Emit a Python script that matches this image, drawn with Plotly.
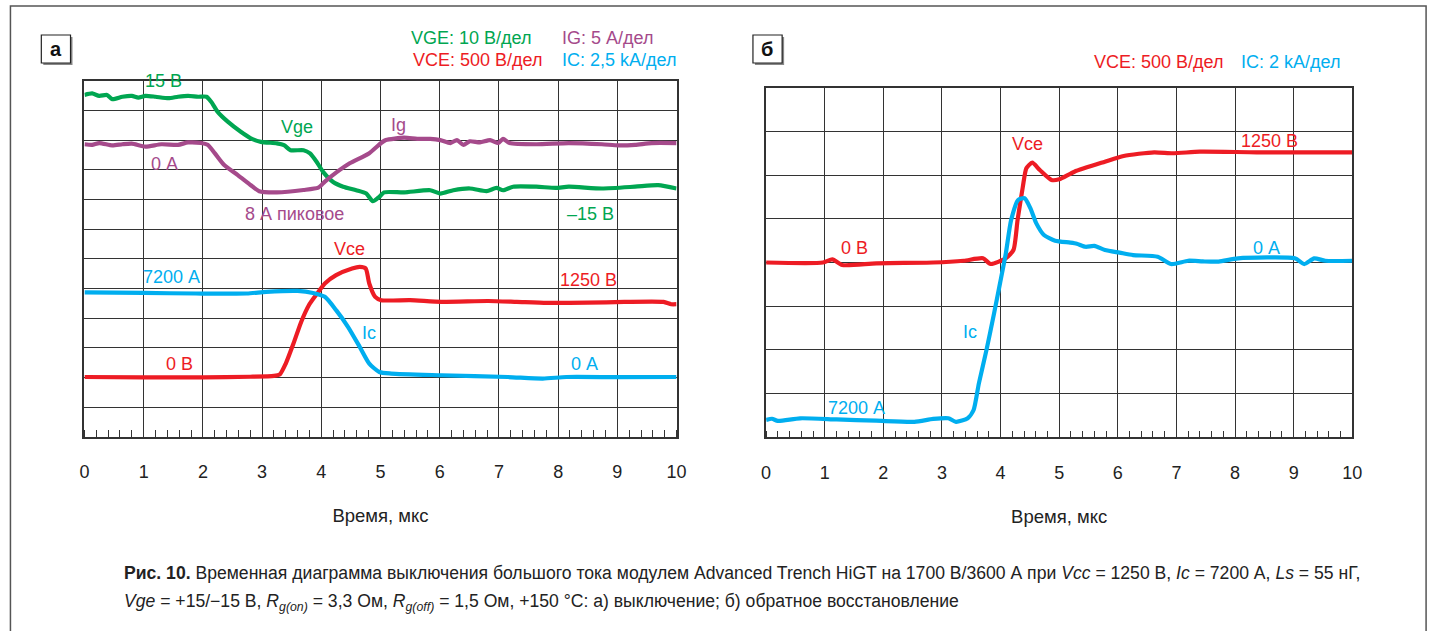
import plotly.graph_objects as go

W, H = 1444, 631

# ---- panel а: turn-off waveforms (time in µs) ----
t_vge_a = [0.00, 0.13, 0.25, 0.38, 0.47, 0.64, 0.80, 0.91, 1.03, 1.20, 1.42, 1.58, 1.75, 1.92,
           2.06, 2.14, 2.25, 2.42, 2.64, 2.81, 2.98, 3.25, 3.37, 3.48, 3.70, 3.81, 3.92, 4.03,
           4.20, 4.37, 4.59, 4.76, 4.87, 4.98, 5.06, 5.40, 5.84, 6.01, 6.23, 6.51, 6.79, 6.96,
           7.07, 7.24, 7.63, 7.96, 8.18, 8.74, 9.30, 9.69, 10.00]
vge_a = [15.2, 15.7, 14.9, 15.2, 13.8, 14.6, 14.9, 14.3, 14.9, 14.6, 14.1, 14.6, 14.9, 14.6,
         14.6, 12.9, 9.5, 6.2, 2.8, 0.6, -0.6, -1.1, -1.7, -3.4, -3.4, -4.5, -7.3, -10.7,
         -14.1, -15.7, -16.9, -18.0, -20.6, -19.1, -17.6, -17.6, -16.9, -18.0, -16.9, -16.3, -17.2, -16.1,
         -16.9, -15.7, -15.7, -16.1, -15.7, -16.3, -15.7, -15.2, -16.3]

t_ig_a = [0.00, 0.13, 0.25, 0.47, 0.64, 0.80, 1.03, 1.30, 1.58, 1.75, 1.97, 2.08, 2.20, 2.36,
          2.59, 2.81, 2.95, 3.25, 3.70, 3.95, 4.06, 4.26, 4.48, 4.81, 5.01, 5.09, 5.40, 5.62,
          5.84, 6.01, 6.18, 6.29, 6.40, 6.51, 6.68, 6.85, 6.99, 7.07, 7.18, 7.63, 8.18, 8.74,
          9.02, 9.30, 9.58, 10.00]
ig_a = [-0.2, -0.3, 0.0, -0.4, -0.2, -0.1, -0.6, -0.2, -0.3, 0.1, 0.0, -0.3, -1.7, -3.7,
        -5.4, -7.1, -8.1, -8.3, -7.9, -7.5, -6.5, -4.9, -3.4, -1.7, 0.0, 0.5, 0.9, 0.7,
        0.7, 0.5, 0.0, 0.5, -0.3, 0.3, 0.1, 0.5, 0.0, 0.7, 0.0, -0.2, 0.0, -0.2,
        -0.4, -0.3, 0.0, 0.0]

t_vce_a = [0.00, 1.00, 2.00, 2.80, 3.20, 3.30, 3.40, 3.53, 3.66, 3.79, 3.93, 4.06, 4.25, 4.52,
           4.65, 4.75, 4.81, 4.91, 5.01, 5.50, 6.03, 6.82, 7.30, 7.81, 8.50, 9.12, 9.78, 9.91, 10.00]
vce_a = [10, 5, 5, 15, 30, 55, 237, 574, 938, 1219, 1416, 1585, 1725, 1838,
         1865, 1838, 1585, 1359, 1304, 1304, 1275, 1290, 1275, 1258, 1262, 1275, 1275, 1236, 1236]

t_ic_a = [0.00, 1.00, 1.88, 2.74, 3.07, 3.60, 3.86, 4.06, 4.25, 4.45, 4.65, 4.81, 4.98, 5.18,
          6.03, 7.15, 7.74, 8.14, 9.00, 10.00]
ic_a = [7170, 7130, 7083, 7083, 7220, 7300, 7130, 6800, 5680, 4280, 2580, 1180, 470, 340,
        200, 50, -80, 50, 40, 50]

# ---- panel б: reverse recovery ----
t_vce_b = [0.00, 0.97, 1.13, 1.30, 1.88, 2.85, 3.37, 3.70, 3.83, 4.09, 4.22, 4.29, 4.38, 4.44,
           4.54, 4.67, 4.87, 5.00, 5.26, 5.78, 6.10, 6.62, 6.94, 7.40, 8.37, 10.00]
vce_b = [0, 0, 36, -29, -9, 0, 20, 48, -17, 48, 143, 487, 867, 1078,
         1142, 1058, 944, 952, 1039, 1153, 1219, 1261, 1250, 1268, 1261, 1261]

t_ic_b = [0.00, 0.10, 0.20, 0.58, 1.20, 1.88, 2.53, 2.85, 3.11, 3.24, 3.44, 3.54, 3.63, 3.76,
          3.89, 3.99, 4.09, 4.18, 4.30, 4.41, 4.51, 4.61, 4.74, 4.93, 5.19, 5.30, 5.45, 5.60,
          5.78, 6.03, 6.26, 6.68, 6.91, 7.20, 7.45, 7.72, 8.05, 9.02, 9.18, 9.35, 9.54, 10.00]
ic_b = [7208, 7150, 7250, 7130, 7180, 7240, 7290, 7160, 7130, 7290, 7130, 6750, 5530, 4000,
        2320, 960, -420, -1940, -2860, -2940, -2480, -1790, -1260, -1000, -910, -860, -720, -760,
        -570, -450, -340, -265, 70, -80, -50, -40, -190, -190, 70, -190, -80, -80]

x_ticks = list(range(0, 11))
x_tick_text = [str(v) for v in x_ticks]

GREEN, PURPLE, RED, BLUE = "#00a651", "#a54a8b", "#ed1c24", "#00aeef"
GRID = "#333333"
FONT = "Liberation Sans, Arial, sans-serif"


def px(x):
    return x / W


def py(y):
    return 1 - y / H


fig = go.Figure()


def trace(t, v, color, xa, ya):
    fig.add_trace(go.Scatter(
        x=t, y=v, mode="lines", xaxis=xa, yaxis=ya, showlegend=False, hoverinfo="skip",
        line=dict(color=color, width=4.2, shape="spline", smoothing=0.6)))


trace(t_vge_a, vge_a, GREEN, "x", "y3")
trace(t_ig_a, ig_a, PURPLE, "x", "y4")
trace(t_vce_a, vce_a, RED, "x", "y5")
trace(t_ic_a, ic_a, BLUE, "x", "y6")
trace(t_vce_b, vce_b, RED, "x2", "y7")
trace(t_ic_b, ic_b, BLUE, "x2", "y8")

xcommon = dict(range=[0, 10], tickmode="array", tickvals=x_ticks, ticktext=x_tick_text,
               showgrid=True, gridcolor=GRID, gridwidth=1.3, zeroline=False,
               showline=True, mirror=True, linecolor=GRID, linewidth=1.6, ticks="",
               ticklabelstandoff=18, tickfont=dict(size=18, color="#222", family=FONT),
               minor=dict(dtick=0.2, tick0=0, ticks="inside", ticklen=7, tickcolor=GRID,
                          tickwidth=1.2, showgrid=False),
               title=dict(text="Время, мкс", standoff=28, font=dict(size=18.5, color="#222", family=FONT)),
               fixedrange=True)
ycommon = dict(tick0=0, dtick=1, showgrid=True, gridcolor=GRID, gridwidth=1.3, zeroline=False,
               showline=True, mirror=True, linecolor=GRID, linewidth=1.6, ticks="",
               showticklabels=False, fixedrange=True)


def overlay(base, xa, rng):
    return dict(overlaying=base, anchor=xa, range=rng, visible=False, fixedrange=True)


fig.update_layout(
    width=W, height=H, margin=dict(l=0, r=0, t=0, b=0),
    paper_bgcolor="white", plot_bgcolor="white",
    font=dict(family=FONT, size=18),
    xaxis=dict(domain=[px(80.3), px(678.6)], anchor="y", **xcommon),
    yaxis=dict(domain=[py(437), py(80.7)], anchor="x", range=[0, 12], **ycommon),
    xaxis2=dict(domain=[px(769.1), px(1361.4)], anchor="y2", **xcommon),
    yaxis2=dict(domain=[py(437.3), py(87.7)], anchor="x2", range=[0, 8], **ycommon),
    # per-channel scales: volts or amps per grid division
    yaxis3=overlay("y", "x", [-100, 20]),        # VGE 10 V/div
    yaxis4=overlay("y", "x", [-49.5, 10.5]),     # IG 5 A/div
    yaxis5=overlay("y", "x", [-1000, 5000]),     # VCE 500 V/div
    yaxis6=overlay("y", "x", [-5000, 25000]),    # IC 2.5 kA/div
    yaxis7=overlay("y2", "x2", [-2000, 2000]),   # VCE 500 V/div
    yaxis8=overlay("y2", "x2", [8000, -8000]),   # IC 2 kA/div
)

ann = []


def label(text, x, y, color, xref, yref, size=18, xanchor="center", **kw):
    ann.append(dict(text=text, x=x, y=y, xref=xref, yref=yref, showarrow=False,
                    xanchor=xanchor, yanchor="middle",
                    font=dict(size=size, color=color, family=FONT), **kw))


# trace labels, panel а
label("15 В", 1.33, 11.99, GREEN, "x", "y")
label("Vge", 3.59, 10.44, GREEN, "x", "y")
label("Ig", 5.31, 10.51, PURPLE, "x", "y")
label("0 А", 1.35, 9.19, PURPLE, "x", "y")
label("8 А пиковое", 3.54, 7.51, PURPLE, "x", "y")
label("–15 В", 8.54, 7.51, GREEN, "x", "y")
label("Vce", 4.47, 6.33, RED, "x", "y")
label("7200 А", 1.47, 5.38, BLUE, "x", "y")
label("1250 В", 8.52, 5.28, RED, "x", "y")
label("Ic", 4.81, 3.50, BLUE, "x", "y")
label("0 В", 1.60, 2.45, RED, "x", "y")
label("0 А", 8.45, 2.45, BLUE, "x", "y")

# trace labels, panel б
label("Vce", 4.46, 6.71, RED, "x2", "y2")
label("1250 В", 8.58, 6.78, RED, "x2", "y2")
label("0 В", 1.50, 4.33, RED, "x2", "y2")
label("0 А", 8.54, 4.33, BLUE, "x2", "y2")
label("Ic", 3.48, 2.41, BLUE, "x2", "y2")
label("7200 А", 1.55, 0.67, BLUE, "x2", "y2")

# channel scales
label("VGE: 10 В/дел", px(408.6), py(38), GREEN, "paper", "paper", xanchor="left")
label("IG: 5 А/дел", px(561), py(38), PURPLE, "paper", "paper", xanchor="left")
label("VCE: 500 В/дел", px(410), py(60), RED, "paper", "paper", xanchor="left")
label("IC: 2,5 kA/дел", px(561), py(60), BLUE, "paper", "paper", xanchor="left")
label("VCE: 500 В/дел", px(1098), py(61.7), RED, "paper", "paper", xanchor="left")
label("IC: 2 kA/дел", px(1246.6), py(61.7), BLUE, "paper", "paper", xanchor="left")

# panel letters
label("<b>а</b>", px(51.5), py(49), "#111", "paper", "paper", size=20)
label("<b>б</b>", px(770), py(49), "#111", "paper", "paper", size=20)

# caption
cap1 = ("<b>Рис. 10.</b> Временная диаграмма выключения большого тока модулем Advanced Trench HiGT "
        "на 1700 В/3600 А при <i>Vcc</i> = 1250 В, <i>Ic</i> = 7200 А, <i>Ls</i> = 55 нГ,")
cap2 = ("<i>Vge</i> = +15/−15 В, <i>R<sub>g(on)</sub></i> = 3,3 Ом, <i>R<sub>g(off)</sub></i> = 1,5 Ом, "
        "+150 °C: а) выключение; б) обратное восстановление")
label(cap1, px(118), py(573), "#222", "paper", "paper", size=17.6, xanchor="left")
label(cap2, px(118), py(602), "#222", "paper", "paper", size=17.6, xanchor="left")

shapes = [
    # outer frame
    dict(type="rect", xref="paper", yref="paper", x0=px(5.5), x1=px(1436), y0=py(660), y1=py(6),
         line=dict(color="#555", width=1.5), layer="below"),
]
for x0 in (36.7, 755.8):
    shapes.append(dict(type="rect", xref="paper", yref="paper", x0=px(x0 + 2), x1=px(x0 + 31.5),
                       y0=py(65), y1=py(37), line=dict(width=0), fillcolor="#888", layer="below"))
    shapes.append(dict(type="rect", xref="paper", yref="paper", x0=px(x0), x1=px(x0 + 29.5),
                       y0=py(63), y1=py(35), line=dict(color="#222", width=1.2),
                       fillcolor="white", layer="below"))

fig.update_layout(annotations=ann, shapes=shapes)
fig.write_html("out.html")
